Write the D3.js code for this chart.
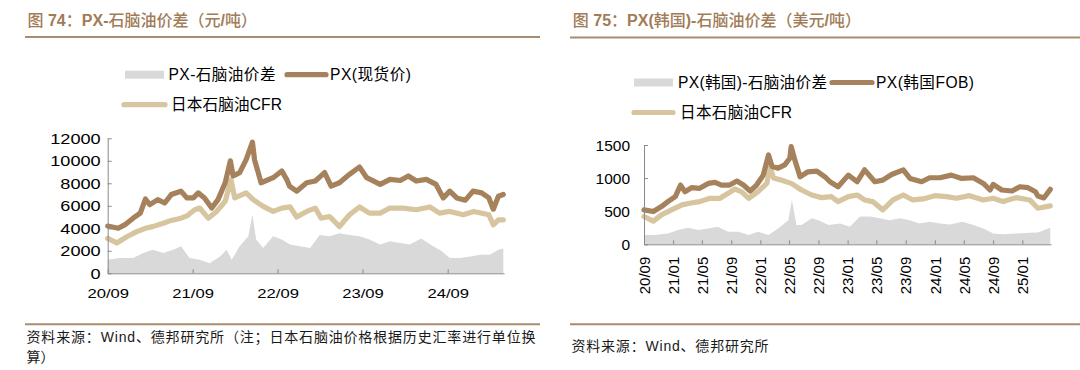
<!DOCTYPE html>
<html><head><meta charset="utf-8">
<script src="https://cdn.jsdelivr.net/npm/d3@7"></script>
<style>
html,body{margin:0;padding:0;background:#fff;}
svg{display:block;}
</style></head><body>
<svg id="c" width="1080" height="370"></svg>
<script>
// ---------- Chart 74 (CNY/t) ----------
const titleLeft = "图 74：PX-石脑油价差（元/吨）";
const legendLeft = ["PX-石脑油价差", "PX(现货价)", "日本石脑油CFR"];
const noteLeft = ["资料来源：Wind、德邦研究所（注；日本石脑油价格根据历史汇率进行单位换", "算）"];
const xTicksLeft = ["2020-09", "2021-09", "2022-09", "2023-09", "2024-09"];
const yTicksLeft = [0, 2000, 4000, 6000, 8000, 10000, 12000];

const pxSpotCNY = [["2020-09-01",4200],["2020-10-16",4000],["2020-11-13",4300],["2020-12-19",4900],["2021-01-19",5350],["2021-02-10",6600],["2021-03-01",6100],["2021-04-04",6550],["2021-05-04",6250],["2021-06-01",7000],["2021-07-13",7300],["2021-08-07",6700],["2021-09-04",6700],["2021-09-25",7150],["2021-10-22",6700],["2021-11-22",5800],["2021-12-19",6550],["2022-01-19",8050],["2022-02-10",10000],["2022-02-22",8650],["2022-03-22",8950],["2022-04-19",10100],["2022-05-16",11650],["2022-05-25",10100],["2022-06-22",8050],["2022-08-13",8500],["2022-09-19",9100],["2022-10-10",8350],["2022-10-22",7750],["2022-11-22",7300],["2023-01-04",8050],["2023-02-10",8200],["2023-03-22",8950],["2023-04-19",7750],["2023-05-25",8050],["2023-07-07",8800],["2023-08-19",9450],["2023-09-19",8500],["2023-11-16",7900],["2023-12-28",8350],["2024-02-10",8250],["2024-03-16",8650],["2024-04-19",8200],["2024-06-01",8350],["2024-07-13",7900],["2024-08-13",6700],["2024-09-10",7300],["2024-10-10",6700],["2024-11-16",6500],["2024-12-19",7300],["2025-01-25",7150],["2025-02-25",6700],["2025-03-16",5700],["2025-04-07",6850],["2025-04-28",7000]];

const naphthaCNY = [["2020-09-01",3100],["2020-10-10",2700],["2020-11-22",3250],["2021-01-04",3700],["2021-02-10",4000],["2021-03-13",4150],["2021-04-28",4450],["2021-06-01",4700],["2021-07-13",4900],["2021-08-07",5100],["2021-09-10",5650],["2021-10-01",5800],["2021-11-07",4900],["2021-12-13",5500],["2022-01-19",6400],["2022-02-13",8300],["2022-03-01",6700],["2022-04-19",7150],["2022-05-19",6550],["2022-07-01",5950],["2022-08-13",5500],["2022-09-19",5800],["2022-10-25",5900],["2022-11-22",5000],["2023-01-04",5500],["2023-02-10",5800],["2023-03-07",4900],["2023-04-13",5050],["2023-05-25",4150],["2023-07-07",5200],["2023-08-19",5900],["2023-10-01",5350],["2023-11-16",5350],["2023-12-28",5800],["2024-02-22",5800],["2024-04-19",5650],["2024-06-16",5900],["2024-07-28",5350],["2024-09-10",5500],["2024-11-07",5200],["2024-12-22",5500],["2025-02-25",5200],["2025-03-16",4300],["2025-04-07",4750],["2025-04-28",4750]];

const spreadCNY = [["2020-09-01",1200],["2020-10-22",1350],["2020-12-19",1350],["2021-02-01",1800],["2021-03-13",2100],["2021-04-28",1800],["2021-06-10",2100],["2021-07-13",2400],["2021-08-19",1350],["2021-10-01",1200],["2021-11-13",900],["2021-12-28",1500],["2022-01-25",2100],["2022-02-16",1200],["2022-03-22",2400],["2022-04-28",3300],["2022-05-16",5200],["2022-06-01",3000],["2022-07-01",2250],["2022-08-13",3300],["2022-09-19",3000],["2022-10-25",2550],["2022-12-07",2400],["2023-01-19",2250],["2023-03-01",3400],["2023-04-13",3300],["2023-05-25",3550],["2023-07-07",3400],["2023-08-19",3300],["2023-10-01",3000],["2023-11-16",2550],["2023-12-28",2850],["2024-02-10",2700],["2024-03-22",2550],["2024-05-10",3100],["2024-07-01",2400],["2024-08-07",1950],["2024-09-10",1350],["2024-10-25",1350],["2024-12-07",1500],["2025-01-19",1650],["2025-03-01",1650],["2025-04-07",2100],["2025-04-28",2200]];

// ---------- Chart 75 (USD/t) ----------
const titleRight = "图 75：PX(韩国)-石脑油价差（美元/吨）";
const legendRight = ["PX(韩国)-石脑油价差", "PX(韩国FOB)", "日本石脑油CFR"];
const noteRight = ["资料来源：Wind、德邦研究所"];
const xTicksRight = ["2020-09","2021-01","2021-05","2021-09","2022-01","2022-05","2022-09","2023-01","2023-05","2023-09","2024-01","2024-05","2024-09","2025-01"];
const yTicksRight = [0, 500, 1000, 1500];

const pxKoreaUSD = [["2020-09-01",520],["2020-10-10",495],["2020-11-13",570],["2020-12-10",645],["2021-01-10",720],["2021-02-01",895],["2021-02-19",795],["2021-03-19",855],["2021-04-22",845],["2021-05-28",920],["2021-06-25",935],["2021-07-22",895],["2021-08-25",895],["2021-09-25",955],["2021-10-22",895],["2021-11-19",805],["2021-12-16",895],["2022-01-13",1045],["2022-02-04",1350],["2022-02-19",1175],["2022-03-16",1150],["2022-04-13",1200],["2022-05-04",1300],["2022-05-10",1475],["2022-05-25",1275],["2022-06-16",1020],["2022-07-19",1095],["2022-08-25",1105],["2022-09-28",1020],["2022-10-19",945],["2022-11-22",870],["2023-01-04",1045],["2023-02-10",945],["2023-03-13",1125],["2023-04-25",945],["2023-05-28",970],["2023-07-04",1055],["2023-08-22",1125],["2023-09-19",995],["2023-11-07",945],["2023-12-10",1005],["2024-01-22",1005],["2024-03-10",1045],["2024-04-22",995],["2024-06-10",1005],["2024-07-22",920],["2024-08-19",820],["2024-09-01",905],["2024-10-07",820],["2024-11-19",805],["2024-12-22",870],["2025-01-25",855],["2025-02-25",795],["2025-03-07",730],["2025-04-01",700],["2025-04-28",830]];

const naphthaUSD = [["2020-09-01",420],["2020-10-10",350],["2020-11-13",445],["2020-12-25",520],["2021-02-07",595],["2021-03-10",620],["2021-04-22",645],["2021-06-04",695],["2021-07-16",695],["2021-08-19",770],["2021-09-16",835],["2021-10-13",795],["2021-11-13",695],["2021-12-22",795],["2022-01-28",920],["2022-02-10",1175],["2022-02-25",1000],["2022-03-28",970],["2022-05-10",920],["2022-06-22",820],["2022-08-04",745],["2022-09-13",705],["2022-10-25",720],["2022-11-22",645],["2023-01-04",720],["2023-02-10",745],["2023-03-13",670],["2023-04-16",645],["2023-05-28",520],["2023-07-10",670],["2023-08-22",745],["2023-10-01",670],["2023-11-13",685],["2024-01-01",735],["2024-02-19",720],["2024-04-01",695],["2024-05-25",735],["2024-07-22",670],["2024-09-01",695],["2024-10-13",645],["2024-12-07",705],["2025-02-01",670],["2025-03-07",545],["2025-04-28",580]];

const spreadUSD = [["2020-09-01",140],["2020-10-16",140],["2020-12-10",165],["2021-01-22",215],["2021-03-04",250],["2021-04-16",215],["2021-05-28",240],["2021-07-07",265],["2021-08-19",190],["2021-10-01",190],["2021-11-13",140],["2021-12-22",190],["2022-02-04",140],["2022-03-16",240],["2022-04-28",365],["2022-05-13",670],["2022-06-01",290],["2022-06-22",290],["2022-08-04",395],["2022-09-01",365],["2022-10-13",290],["2022-12-01",315],["2023-01-10",265],["2023-02-22",420],["2023-04-04",420],["2023-05-16",395],["2023-06-25",365],["2023-08-07",395],["2023-09-19",365],["2023-10-28",315],["2023-12-10",340],["2024-01-22",315],["2024-03-04",300],["2024-04-25",340],["2024-06-10",290],["2024-07-22",240],["2024-09-01",165],["2024-10-13",150],["2024-12-07",165],["2025-02-01",175],["2025-03-07",180],["2025-04-28",250]];

// ---------- styles ----------
const C_PX = "#a6825c", C_NAP = "#d6c59f", C_SPREAD = "#d9d9d9", C_AXIS = "#8a8a8a";
const C_TITLE = "#a17c57", C_RULE = "#a98c6f";
const LATIN = "'Liberation Sans', Arial, 'Noto Sans CJK SC', sans-serif";
const CJK = "'Noto Sans CJK SC', sans-serif";
const LW = 5.2;

const svg = d3.select("#c");
const parse = d3.timeParse("%Y-%m-%d");
const parseM = d3.timeParse("%Y-%m");
const fmt = d3.timeFormat("%y/%m");

function stretch(sel, k) {
  sel.each(function () {
    const w = this.getComputedTextLength();
    d3.select(this).attr("textLength", w * k).attr("lengthAdjust", "spacingAndGlyphs");
  });
}

function drawTitle(x, y, text) {
  const t = svg.append("text").attr("x", x).attr("y", y).attr("fill", C_TITLE).attr("font-size", 16);
  const re = /[\u3000-\u303f\u4e00-\u9fff\uff00-\uffef]+|[^\u3000-\u303f\u4e00-\u9fff\uff00-\uffef]+/g;
  (text.match(re) || []).forEach(seg => {
    const isCJK = /[\u3000-\u303f\u4e00-\u9fff\uff00-\uffef]/.test(seg);
    t.append("tspan").text(seg)
      .attr("font-family", isCJK ? CJK : LATIN)
      .attr("font-weight", isCJK ? 500 : 700);
  });
}

function rule(x1, x2, y) {
  svg.append("line").attr("x1", x1).attr("x2", x2).attr("y1", y).attr("y2", y)
    .attr("stroke", C_RULE).attr("stroke-width", 2);
}

function note(x, y, lines, widths) {
  lines.forEach((s, i) => {
    const t = svg.append("text").attr("x", x).attr("y", y + i * 19.5)
      .attr("font-family", LATIN).attr("font-size", 14).attr("fill", "#1a1a1a").text(s);
    if (widths[i]) t.attr("textLength", widths[i]).attr("lengthAdjust", "spacing");
  });
}

function legend(o, labels) {
  const g = svg.append("g").attr("font-family", LATIN).attr("font-size", 15.6).attr("fill", "#000");
  g.append("rect").attr("x", o.s1[0]).attr("y", o.r1 - 4).attr("width", o.s1[1] - o.s1[0]).attr("height", 8).attr("fill", C_SPREAD);
  g.append("text").attr("x", o.t1).attr("y", o.r1).attr("dy", "0.36em").text(labels[0]).attr("textLength", o.w1).attr("lengthAdjust", "spacing");
  g.append("line").attr("x1", o.s2[0]).attr("x2", o.s2[1]).attr("y1", o.r1).attr("y2", o.r1)
    .attr("stroke", C_PX).attr("stroke-width", LW).attr("stroke-linecap", "round");
  g.append("text").attr("x", o.t2).attr("y", o.r1).attr("dy", "0.36em").text(labels[1]).attr("textLength", o.w2).attr("lengthAdjust", "spacing");
  g.append("line").attr("x1", o.s3[0]).attr("x2", o.s3[1]).attr("y1", o.r2).attr("y2", o.r2)
    .attr("stroke", C_NAP).attr("stroke-width", LW).attr("stroke-linecap", "round");
  g.append("text").attr("x", o.t3).attr("y", o.r2).attr("dy", "0.36em").text(labels[2]).attr("textLength", o.w3).attr("lengthAdjust", "spacing");
}

function chart(o) {
  const g = svg.append("g");
  const x = d3.scaleTime().domain([parse("2020-09-01"), parse("2025-05-01")]).range([o.x0, o.x1]);
  const y = d3.scaleLinear().domain([0, o.yMax]).range([o.y0, o.y1]);
  const X = d => x(parse(d[0])), Y = d => y(d[1]);

  g.append("path").datum(o.spread).attr("fill", C_SPREAD)
    .attr("d", d3.area().x(X).y0(y(0)).y1(Y));
  const line = d3.line().x(X).y(Y);
  g.append("path").datum(o.nap).attr("fill", "none").attr("stroke", C_NAP)
    .attr("stroke-width", LW).attr("stroke-linejoin", "round").attr("stroke-linecap", "round").attr("d", line);
  g.append("path").datum(o.px).attr("fill", "none").attr("stroke", C_PX)
    .attr("stroke-width", LW).attr("stroke-linejoin", "round").attr("stroke-linecap", "round").attr("d", line);

  const ya = g.append("g").attr("transform", `translate(${o.x0},0)`)
    .call(d3.axisLeft(y).tickValues(o.yTicks).tickFormat(d3.format("d"))
      .tickSizeInner(-4).tickSizeOuter(0).tickPadding(o.yPad));
  ya.selectAll("text").attr("font-family", LATIN).attr("font-size", o.yFont).attr("fill", "#000").attr("dy", "0.34em");
  if (o.stretch) stretch(ya.selectAll("text"), o.stretch);

  const xa = g.append("g").attr("transform", `translate(0,${o.y0})`)
    .call(d3.axisBottom(x).tickValues(o.xTicks.map(parseM)).tickFormat(fmt)
      .tickSizeInner(-4).tickSizeOuter(0).tickPadding(o.xPad));
  xa.selectAll("text").attr("font-family", LATIN).attr("font-size", o.xFont).attr("fill", "#000");
  if (o.rotate) {
    xa.selectAll("text").attr("transform", "rotate(-90)").attr("text-anchor", "end")
      .attr("x", -o.xPad).attr("y", 0).attr("dy", "0.35em");
  }
  if (o.stretch) stretch(xa.selectAll("text"), o.stretch);

  g.selectAll(".domain, .tick line").attr("stroke", C_AXIS).attr("stroke-width", 1);
}

// ---------- left ----------
drawTitle(27.5, 26, titleLeft);
rule(25, 540, 37);
legend({ r1: 74.7, r2: 104.7, s1: [125, 164], s2: [287, 326], s3: [124, 165],
         t1: 168.5, t2: 330, t3: 171, w1: 107, w2: 81, w3: 111 }, legendLeft);
chart({ x0: 107.7, x1: 504, y0: 273.3, y1: 138.3, yMax: 12000, yTicks: yTicksLeft, xTicks: xTicksLeft,
        px: pxSpotCNY, nap: naphthaCNY, spread: spreadCNY,
        yPad: 7, yFont: 14.5, xPad: 15.2, xFont: 13.3, stretch: 1.25 });
rule(25, 540, 324.3);
note(26.5, 342, noteLeft, [509, 0]);

// ---------- right ----------
drawTitle(572.8, 26, titleRight);
rule(570, 1080, 37.5);
legend({ r1: 82.5, r2: 112.5, s1: [634, 673], s2: [832, 872], s3: [634, 673],
         t1: 678, t2: 876, t3: 680, w1: 149, w2: 98, w3: 112 }, legendRight);
chart({ x0: 644, x1: 1051, y0: 244.3, y1: 145, yMax: 1500, yTicks: yTicksRight, xTicks: xTicksRight,
        px: pxKoreaUSD, nap: naphthaUSD, spread: spreadUSD,
        yPad: 14, yFont: 15.5, xPad: 12.4, xFont: 15, rotate: true });
rule(570, 1080, 324.3);
note(571.5, 350.5, noteRight, [197]);
</script>
</body></html>
